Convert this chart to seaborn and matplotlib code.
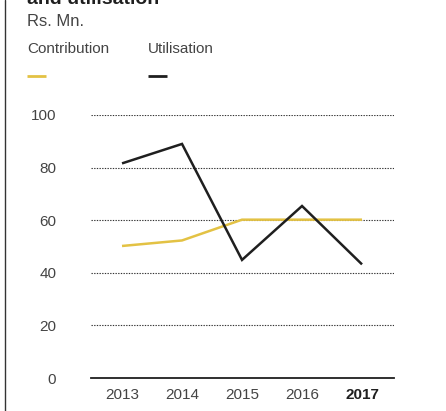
import matplotlib
matplotlib.use("Agg")
import matplotlib.pyplot as plt
from matplotlib.lines import Line2D
import seaborn as sns
import pandas as pd

years = ["2013", "2014", "2015", "2016", "2017"]
contribution = [50.2, 52.3, 60.2, 60.2, 60.2]
utilisation = [81.6, 89.0, 44.9, 65.4, 43.2]
series_names = ["Contribution", "Utilisation"]
yticks = [0, 20, 40, 60, 80, 100]

gold = "#E3C244"
ink = "#1f1f1f"
grey_text = "#444444"

sns.set_theme(style="white")
plt.rcParams["font.family"] = ["Liberation Sans", "DejaVu Sans"]

df = pd.DataFrame({
    "year": years * 2,
    "value": contribution + utilisation,
    "series": [series_names[0]] * len(years) + [series_names[1]] * len(years),
})

fig = plt.figure(figsize=(4.46, 4.11), dpi=100)
ax = fig.add_axes([91 / 446, 1 - 378 / 411, (394 - 91) / 446, (378 - 115) / 411])

sns.lineplot(data=df, x="year", y="value", hue="series",
             palette={series_names[0]: gold, series_names[1]: ink},
             linewidth=1.8, legend=False, ax=ax, sort=False)
for ln in ax.lines:
    ln.set_clip_on(False)
    ln.set_solid_capstyle("butt")
    ln.set_solid_joinstyle("miter")

ax.set_xlim(-0.517, 4.533)
ax.set_ylim(0, 100)
ax.set_yticks(yticks)
ax.set_yticklabels([str(v) for v in yticks])
ax.set_xlabel("")
ax.set_ylabel("")

for y in yticks[1:]:
    ax.axhline(y, color="#333333", linewidth=0.8, linestyle=(0, (1.2, 1.2)), zorder=0)

for side in ["left", "right", "top"]:
    ax.spines[side].set_visible(False)
ax.spines["bottom"].set_color(ink)
ax.spines["bottom"].set_linewidth(1.3)

ax.tick_params(axis="y", length=0, pad=25, labelsize=11, labelcolor=grey_text)
ax.tick_params(axis="x", length=0, pad=7, labelsize=11, labelcolor=grey_text)
for lbl in ax.get_xticklabels():
    if lbl.get_text() == "2017":
        lbl.set_fontweight("bold")
        lbl.set_color(ink)

# frame line on the left edge
fig.add_artist(Line2D([5 / 446, 5 / 446], [0, 1], color="#333333", linewidth=1.0))

# heading, units and legend
fig.text(27 / 446, 1 - 4 / 411, "and utilisation", fontsize=14, fontweight="bold",
         color=ink, va="baseline", ha="left")
fig.text(27 / 446, 1 - 22 / 411, "Rs. Mn.", fontsize=12, color=grey_text, va="center", ha="left")
legend_x = [27, 148]
for name, col, x0 in zip(series_names, [gold, ink], legend_x):
    fig.text(x0 / 446, 1 - 49 / 411, name, fontsize=11, color=grey_text, va="center", ha="left")
    fig.add_artist(Line2D([x0 / 446, (x0 + 19) / 446], [1 - 76 / 411, 1 - 76 / 411],
                          color=col, linewidth=2.0, solid_capstyle="butt"))

fig.savefig("out.png", dpi=100)
